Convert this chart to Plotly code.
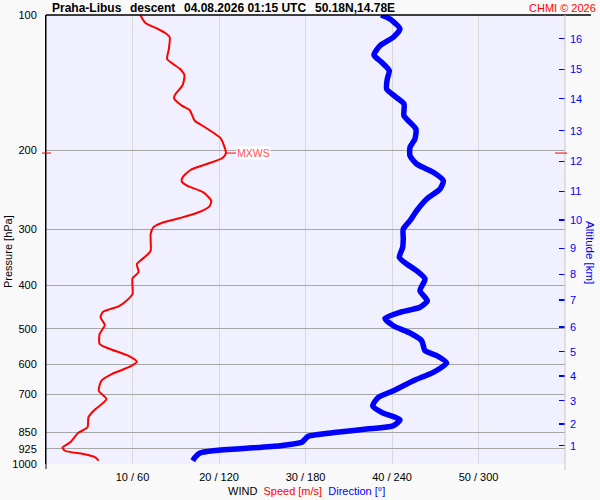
import plotly.graph_objects as go
import math

# ---------------- data ----------------
speed_pressure = [100, 104.2, 107.1, 109.7, 112.1, 119.1, 125.3, 128.6, 131.9, 136.1,
                  143.2, 150.7, 153.3, 159.2, 162.8, 172.0, 176.9, 183.2, 188.2, 203,
                  208.2, 214.7, 221.4, 229.8, 235.1, 240.0, 248.3, 259.2, 266.7, 276.1,
                  283.2, 289.5, 297.1, 307.5, 334.9, 340.7, 352.6, 358.6, 374.2, 385.9,
                  418.2, 432.8, 445.4, 458.0, 471.3, 490.3, 513.5, 540.5, 554.5, 573.9,
                  591.8, 607.2, 630.4, 652.4, 686.7, 716.6, 761.0, 787.2, 828.6, 853.2,
                  894.9, 918.1, 934.2, 950.0, 966.2, 983.2]
speed_ms = [10.9, 11.5, 12.8, 13.8, 14.3, 14.2, 14.0, 14.7, 15.5, 16.0,
            15.8, 14.9, 14.8, 15.7, 16.6, 17.2, 18.2, 19.4, 20.2, 20.8,
            20.4, 18.6, 16.7, 15.8, 15.7, 16.3, 18.2, 19.1, 18.9, 17.4,
            15.5, 13.6, 12.4, 12.1, 12.1, 11.8, 10.9, 10.5, 10.7, 10.0,
            10.0, 9.3, 8.4, 6.6, 6.3, 6.8, 6.2, 6.2, 7.4, 9.5,
            10.5, 9.7, 7.6, 6.4, 6.1, 7.0, 5.5, 4.9, 4.8, 3.7,
            2.8, 1.9, 2.2, 4.3, 5.7, 6.1]

dir_pressure = [100, 102.1, 107.4, 112.1, 117.0, 122.8, 127.4, 133.1, 138.9, 146.2,
                151.8, 157.8, 167.6, 173.4, 179.5, 188.9, 197.1, 205.8, 214.7, 224.0,
                233.9, 244.1, 257.0, 272.9, 287.2, 299.7, 315.5, 329.2, 346.5, 358.6,
                371.1, 387.3, 411.2, 432.8, 447.7, 459.4, 473.7, 492.1, 510.9, 531.4,
                559.4, 573.9, 595.8, 624.9, 652.4, 686.7, 710.4, 741.8, 767.3, 797.0,
                821.9, 835.9, 850.2, 867.8, 894.9, 910.6, 922.8, 934.2, 945.1, 966.2,
                983.2]
direction_deg = [232.4, 238.6, 245.5, 240.9, 231.7, 227.5, 232.8, 238.1, 236.7, 236.3,
                 242.1, 248.3, 248.3, 252.5, 256.6, 255.9, 252.5, 252.5, 257.1, 268.6,
                 275.6, 273.3, 264.1, 257.1, 252.5, 247.8, 247.8, 247.4, 245.1, 250.2,
                 257.1, 262.9, 259.4, 264.5, 259.4, 245.5, 235.1, 240.9, 252.5, 260.6,
                 262.9, 271.0, 277.9, 268.6, 254.8, 240.9, 230.5, 226.6, 232.8, 245.5,
                 240.9, 222.4, 201.6, 181.9, 177.4, 162.3, 139.2, 116.0, 106.8, 103.4,
                 101.8]

mxws_speed = 20.8
mxws_pressure = 203

pressure_ticks = [100, 200, 300, 400, 500, 600, 700, 850, 925, 1000]
altitude_km = [1, 2, 3, 4, 5, 6, 7, 8, 9, 10, 11, 12, 13, 14, 15, 16]
altitude_pressure = [910.6, 814.7, 722.8, 636.8, 562.2, 495.3, 431.2, 378.1, 330.8, 286.1,
                     247.0, 211.8, 181.0, 153.6, 132.1, 112.9]

x_tick_deg = [60, 120, 180, 240, 300]
x_tick_text = ["10 / 60", "20 / 120", "30 / 180", "40 / 240", "50 / 300"]

# ---------------- layout constants ----------------
W, H = 600, 500
L, R, T, B = 46, 565, 15, 464          # plot edges in window pixels
PW, PH = R - L, B - T
FONT = "Liberation Sans, Arial, sans-serif"


def px(xpix):
    return (xpix - L) / PW


def py(ypix):
    return 1 - (ypix - T) / PH


fig = go.Figure()

fig.add_trace(go.Scatter(
    x=direction_deg, y=dir_pressure, mode="lines",
    line=dict(color="#0000ff", width=5.5, shape="spline", smoothing=0.6),
    xaxis="x", yaxis="y", hoverinfo="skip", showlegend=False))

fig.add_trace(go.Scatter(
    x=speed_ms, y=speed_pressure, mode="lines",
    line=dict(color="#ff0000", width=2, shape="spline", smoothing=0.6),
    xaxis="x2", yaxis="y", hoverinfo="skip", showlegend=False))

fig.update_layout(
    width=W, height=H,
    margin=dict(l=L, r=W - R, t=T, b=H - B, pad=0, autoexpand=False),
    paper_bgcolor="#f9f9f9",
    plot_bgcolor="#f0f0fe",
    font=dict(family=FONT, size=11, color="#000000"),
    showlegend=False,
    xaxis=dict(range=[0, 360], tickvals=x_tick_deg, ticktext=x_tick_text,
               showgrid=True, gridcolor="#d9d9d9", gridwidth=1,
               zeroline=False, showline=False, ticks="",
               ticklabelstandoff=5, tickfont=dict(size=11)),
    xaxis2=dict(range=[0, 60], overlaying="x", visible=False),
    yaxis=dict(type="log", range=[3, 2], tickvals=pressure_ticks,
               ticktext=[str(v) for v in pressure_ticks],
               showgrid=True, gridcolor="#a6a6a6", gridwidth=1,
               zeroline=False, showline=True, linecolor="#000000", linewidth=1,
               ticks="", ticklabelstandoff=6, tickfont=dict(size=11)),
    yaxis2=dict(type="log", range=[3, 2], overlaying="y", side="right",
                tickvals=altitude_pressure, ticktext=[str(v) for v in altitude_km],
                showgrid=False, zeroline=False, showline=False,
                ticks="inside", ticklen=6, tickwidth=1.5, tickcolor="#0000ff",
                tickfont=dict(size=11, color="#0000ff"), ticklabelstandoff=4),
)

# dummy trace to activate yaxis2
fig.add_trace(go.Scatter(x=[None], y=[None], xaxis="x", yaxis="y2",
                         showlegend=False, hoverinfo="skip"))

shapes = [
    dict(type="line", xref="paper", yref="paper", x0=0, x1=px(591), y0=1, y1=1,
         line=dict(color="#000000", width=1.5)),
    dict(type="line", xref="paper", yref="paper", x0=0, x1=0, y0=py(469), y1=1,
         line=dict(color="#000000", width=1)),
    dict(type="line", xref="paper", yref="paper", x0=1, x1=1, y0=py(470), y1=1,
         line=dict(color="#c8c8c8", width=1)),
    dict(type="line", xref="paper", yref="y", x0=px(42), x1=px(51),
         y0=mxws_pressure, y1=mxws_pressure, line=dict(color="#ff0000", width=1)),
    dict(type="line", xref="paper", yref="y", x0=px(555), x1=px(567),
         y0=mxws_pressure, y1=mxws_pressure, line=dict(color="#ff0000", width=1)),
]
fig.update_layout(shapes=shapes)

ann = []
title_parts = [("Praha-Libus", 50), ("descent", 128), ("04.08.2026 01:15 UTC", 182),
               ("50.18N,14.78E", 313)]
for txt, xp in title_parts:
    ann.append(dict(text="<b>%s</b>" % txt, xref="paper", yref="paper", x=px(xp), y=1,
                    xanchor="left", yanchor="middle", yshift=T - 8, showarrow=False,
                    font=dict(size=12, color="#000000", family=FONT)))
ann.append(dict(text="CHMI © 2026", xref="paper", yref="paper", x=px(598), y=1,
                xanchor="right", yanchor="middle", yshift=T - 8, showarrow=False,
                font=dict(size=11, color="#ff0000", family=FONT)))
ann.append(dict(text="WIND  <span style='color:#ff0000'>Speed [m/s]</span>  "
                     "<span style='color:#0000ff'>Direction [°]</span>",
                xref="paper", yref="paper", x=px(306), y=0, xanchor="center",
                yanchor="middle", yshift=-(491 - B), showarrow=False,
                font=dict(size=11, color="#000000", family=FONT)))
ann.append(dict(text="Pressure [hPa]", xref="paper", yref="paper", x=px(8), y=py(252),
                xanchor="center", yanchor="middle", textangle=-90, showarrow=False,
                font=dict(size=11, color="#000000", family=FONT)))
ann.append(dict(text="Altitude [km]", xref="paper", yref="paper", x=px(590), y=py(252),
                xanchor="center", yanchor="middle", textangle=90, showarrow=False,
                font=dict(size=11.5, color="#0000ff", family=FONT)))
ann.append(dict(text="MXWS", xref="x2", yref="y", x=mxws_speed,
                y=math.log10(mxws_pressure), xanchor="left", yanchor="middle",
                ax=10, ay=0, axref="pixel", ayref="pixel", showarrow=True,
                arrowhead=0, arrowwidth=1, arrowcolor="#ff0000", standoff=0,
                bgcolor="#ffffff", borderpad=0,
                font=dict(size=10.5, color="#ff5050", family=FONT)))
fig.update_layout(annotations=ann)

fig.write_html("out.html",
               config={"displayModeBar": False, "staticPlot": True},
               post_script="document.body.style.margin='0px';"
                           "document.body.style.background='#f9f9f9';")
